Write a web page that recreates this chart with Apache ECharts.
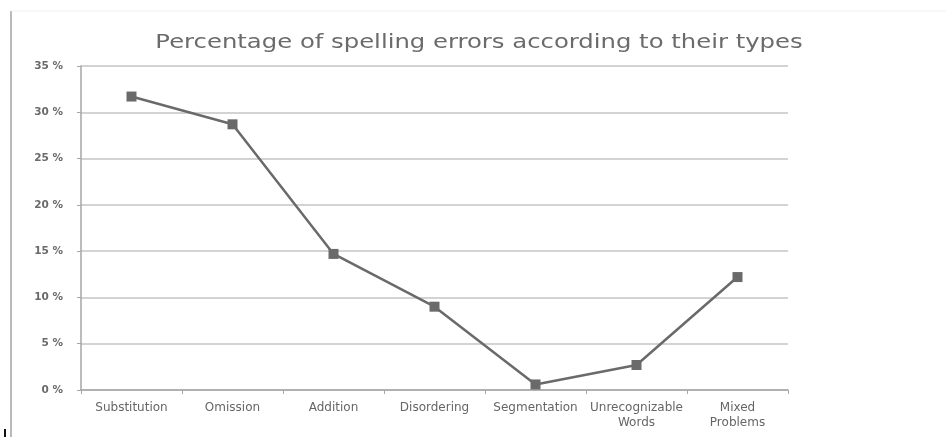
<!DOCTYPE html>
<html>
<head>
<meta charset="utf-8">
<script src="https://cdn.jsdelivr.net/npm/echarts@6/dist/echarts.min.js"></script>
<style>
  html, body { margin: 0; padding: 0; background: #fff; }
  #chart { width: 946px; height: 437px; }
</style>
</head>
<body>
<div id="chart"></div>
<script>
// Error categories along the horizontal axis
const categories = [
  'Substitution', 'Omission', 'Addition', 'Disordering',
  'Segmentation', 'Unrecognizable\nWords', 'Mixed\nProblems'
];
// Share of spelling errors per category (%)
const errorShare = [31.7, 28.7, 14.7, 9.0, 0.6, 2.7, 12.2];
// Value axis settings (%)
const yMin = 0;
const yMax = 35;
const yStep = 5;
const chartTitle = 'Percentage of spelling errors according to their types';

const chart = echarts.init(document.getElementById('chart'), null, { renderer: 'canvas' });

chart.setOption({
  backgroundColor: '#ffffff',
  animation: false,
  graphic: [
    // frame edges
    { type: 'line', shape: { x1: 11, y1: 11, x2: 11, y2: 437 }, style: { stroke: '#b9b9b9', lineWidth: 2 } },
    { type: 'line', shape: { x1: 11, y1: 11, x2: 946, y2: 11 }, style: { stroke: '#f0f0f0', lineWidth: 1 } },
    { type: 'rect', shape: { x: 4, y: 429, width: 2, height: 8 }, style: { fill: '#111' } },
    // heading, drawn in a wide face
    {
      type: 'text',
      x: 479,
      y: 43,
      scaleX: 1.28,
      style: {
        text: chartTitle,
        x: 0,
        y: 0,
        align: 'center',
        verticalAlign: 'middle',
        fontFamily: 'DejaVu Sans, sans-serif',
        fontSize: 19,
        fill: '#6b6b6b'
      }
    }
  ],
  grid: {
    left: 81,
    right: 158,
    top: 66,
    bottom: 47,
    containLabel: false
  },
  xAxis: {
    type: 'category',
    data: categories,
    boundaryGap: true,
    axisLine: { show: true, lineStyle: { color: '#a6a6a6', width: 1.5 } },
    axisTick: { show: true, length: 4, lineStyle: { color: '#a6a6a6' } },
    axisLabel: {
      interval: 0,
      margin: 10,
      fontFamily: 'DejaVu Sans, sans-serif',
      fontSize: 12,
      color: '#666',
      lineHeight: 15
    },
    splitLine: { show: false }
  },
  yAxis: {
    type: 'value',
    min: yMin,
    max: yMax,
    interval: yStep,
    axisLine: { show: true, lineStyle: { color: '#a6a6a6', width: 1.5 } },
    axisTick: { show: true, length: 4, lineStyle: { color: '#a6a6a6' } },
    axisLabel: {
      margin: 18,
      fontFamily: 'DejaVu Sans, sans-serif',
      fontSize: 10.5,
      fontWeight: 'bold',
      color: '#6a6a6a',
      formatter: v => v + ' %'
    },
    splitLine: { show: true, lineStyle: { color: '#c4c4c4', width: 1.5 } }
  },
  series: [{
    type: 'line',
    data: errorShare,
    symbol: 'rect',
    symbolSize: 10,
    itemStyle: { color: '#6a6a6a' },
    lineStyle: { color: '#6a6a6a', width: 2.5 },
    emphasis: { disabled: true }
  }]
});
</script>
</body>
</html>
